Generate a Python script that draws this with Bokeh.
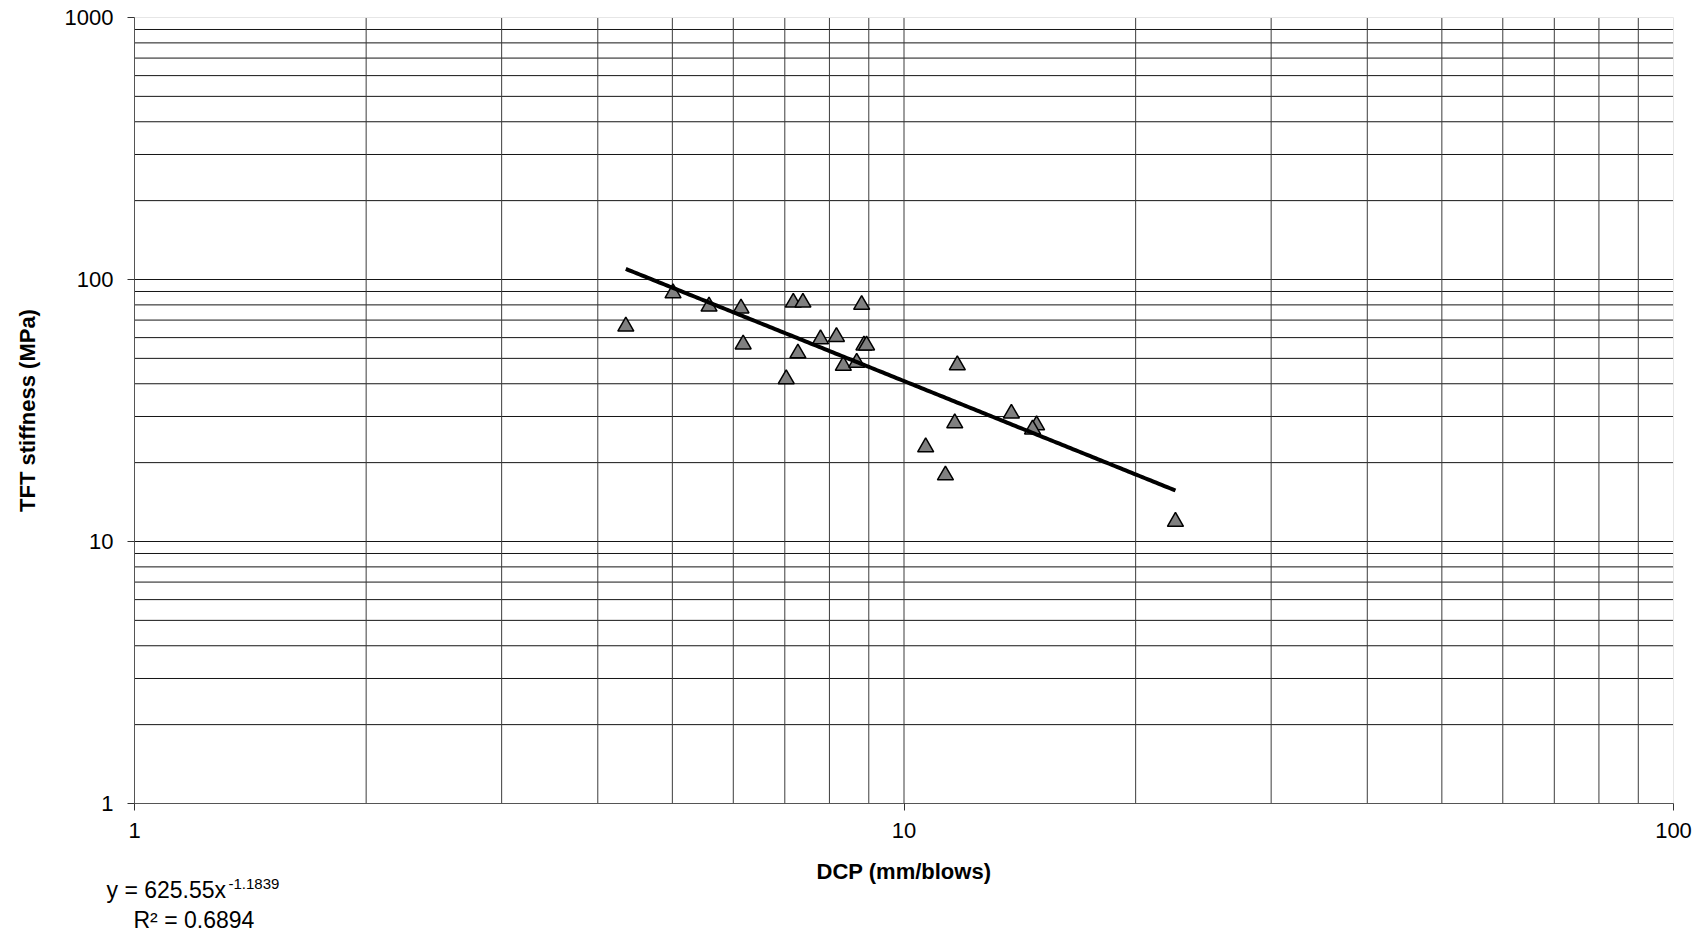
import math
import numpy as np
from bokeh.plotting import figure
from bokeh.models import FixedTicker, Range1d
from bokeh.core.properties import value
from bokeh.embed import file_html
from bokeh.resources import INLINE

# ---- data ----
dcp = [4.35, 5.01, 5.58, 6.14, 6.18, 7.18, 7.39, 7.03, 7.28, 7.79, 8.17, 8.34,
       8.68, 8.81, 8.87, 8.94, 11.73, 11.64, 10.67, 11.32, 13.79, 14.87, 14.69, 22.53]
tft = [66.2, 88.7, 78.9, 77.6, 56.6, 81.7, 81.7, 41.7, 52.3, 59.2, 60.4, 46.9,
       48.2, 80.1, 56.1, 56.1, 47.1, 28.3, 22.9, 17.9, 30.8, 27.8, 26.8, 11.9]

# power trendline reported on the chart: y = a * x^b
fit_a = 625.55
fit_b = -1.1839
fit_r2 = 0.6894

x_min, x_max = 1, 100
y_min, y_max = 1, 1000
x_ticks = [1, 10, 100]
x_tick_labels = ["1", "10", "100"]
y_ticks = [1, 10, 100, 1000]
y_tick_labels = ["1", "10", "100", "1000"]

x_title = "DCP (mm/blows)"
y_title = "TFT stiffness (MPa)"

# ---- layout (pixels) ----
W, H = 1700, 934
plot_left, plot_right, plot_top, plot_bottom = 134, 1673, 17, 803
FONT = "Liberation Sans"

# the drawing frame covers the whole canvas; the log ranges are extended so that
# the chart rectangle (1..100, 1..1000) lands on the pixel box above
dec_x = (plot_right - plot_left) / math.log10(x_max / x_min)
dec_y = (plot_bottom - plot_top) / math.log10(y_max / y_min)
xr = Range1d(x_min * 10 ** (-plot_left / dec_x), x_min * 10 ** ((W - plot_left) / dec_x))
yr = Range1d(y_min * 10 ** (-(H - plot_bottom) / dec_y), y_min * 10 ** (plot_bottom / dec_y))

def px_x(px):
    return x_min * 10 ** ((px - plot_left) / dec_x)
def px_y(py):
    return y_min * 10 ** ((plot_bottom - py) / dec_y)

p = figure(width=W, height=H, x_axis_type="log", y_axis_type="log",
           x_range=xr, y_range=yr, output_backend="svg", toolbar_location=None,
           min_border=0, min_border_left=0, min_border_right=0,
           min_border_top=0, min_border_bottom=0)
p.background_fill_color = "white"
p.border_fill_color = "white"
p.outline_line_color = None
p.grid.visible = False

# grid lines: every 1..9 step of each decade
xg = [m * d for d in (1, 10) for m in range(2, 10)] + [10]
yg = [m * d for d in (1, 10, 100) for m in range(2, 10)] + [10, 100]
p.segment(x0=[x_min] * len(yg), y0=yg, x1=[x_max] * len(yg), y1=yg,
          line_color="#151515", line_width=1)
p.segment(x0=xg, y0=[y_min] * len(xg), x1=xg, y1=[y_max] * len(xg),
          line_color="#3c3c3c", line_width=1)
# faint plot-area border at top and right
p.segment(x0=[x_min, x_max], y0=[y_max, y_min], x1=[x_max, x_max], y1=[y_max, y_max],
          line_color="#e6e6e6", line_width=1)

# axes pinned to the chart rectangle
p.xaxis.fixed_location = y_min
p.yaxis.fixed_location = x_min
p.xaxis.bounds = (x_min, x_max)
p.yaxis.bounds = (y_min, y_max)
for ax, ticks, labels in ((p.xaxis, x_ticks, x_tick_labels), (p.yaxis, y_ticks, y_tick_labels)):
    ax.ticker = FixedTicker(ticks=ticks)
    ax.major_label_overrides = {t: l for t, l in zip(ticks, labels)}
    ax.major_tick_out = 7
    ax.major_tick_in = 0
    ax.minor_tick_out = 0
    ax.minor_tick_in = 0
    ax.axis_line_color = "#555555"
    ax.major_tick_line_color = "#333333"
    ax.major_label_text_font = FONT
    ax.major_label_text_font_size = "22px"
    ax.major_label_text_color = "black"
    ax.axis_label_text_font = FONT
    ax.axis_label_text_font_style = "bold"
    ax.axis_label_text_font_size = "22px"
    ax.axis_label_text_color = "black"

p.yaxis.major_label_standoff = 14
p.xaxis.major_label_standoff = 12
p.xaxis.axis_label = x_title
p.yaxis.axis_label = y_title
p.yaxis.axis_label_standoff = 22
p.xaxis.axis_label_standoff = 18

# markers
p.scatter(dcp, tft, marker="triangle", size=16, fill_color="#808080",
          line_color="black", line_width=1.5)

# trendline over the data range
xs = np.geomspace(min(dcp), max(dcp), 200)
ys = fit_a * xs ** fit_b
p.line(xs, ys, line_color="black", line_width=4)

# ---- trendline equation below the chart (vertical centres in pixels) ----
eq_main = "y = %.2fx" % fit_a
eq_exp = "%.4f" % fit_b
r2_text = "R\u00b2 = %.4f" % fit_r2

p.text(x=[px_x(106)], y=[px_y(889)], text=[eq_main], text_font=value(FONT),
       text_font_size=value("23px"), text_baseline="middle", text_color="black")
p.text(x=[px_x(228)], y=[px_y(883)], text=[eq_exp], text_font=value(FONT),
       text_font_size=value("15px"), text_baseline="middle", text_color="black")
p.text(x=[px_x(133)], y=[px_y(919)], text=[r2_text], text_font=value(FONT),
       text_font_size=value("23px"), text_baseline="middle", text_color="black")

open("out.html", "w").write(file_html(p, INLINE))
